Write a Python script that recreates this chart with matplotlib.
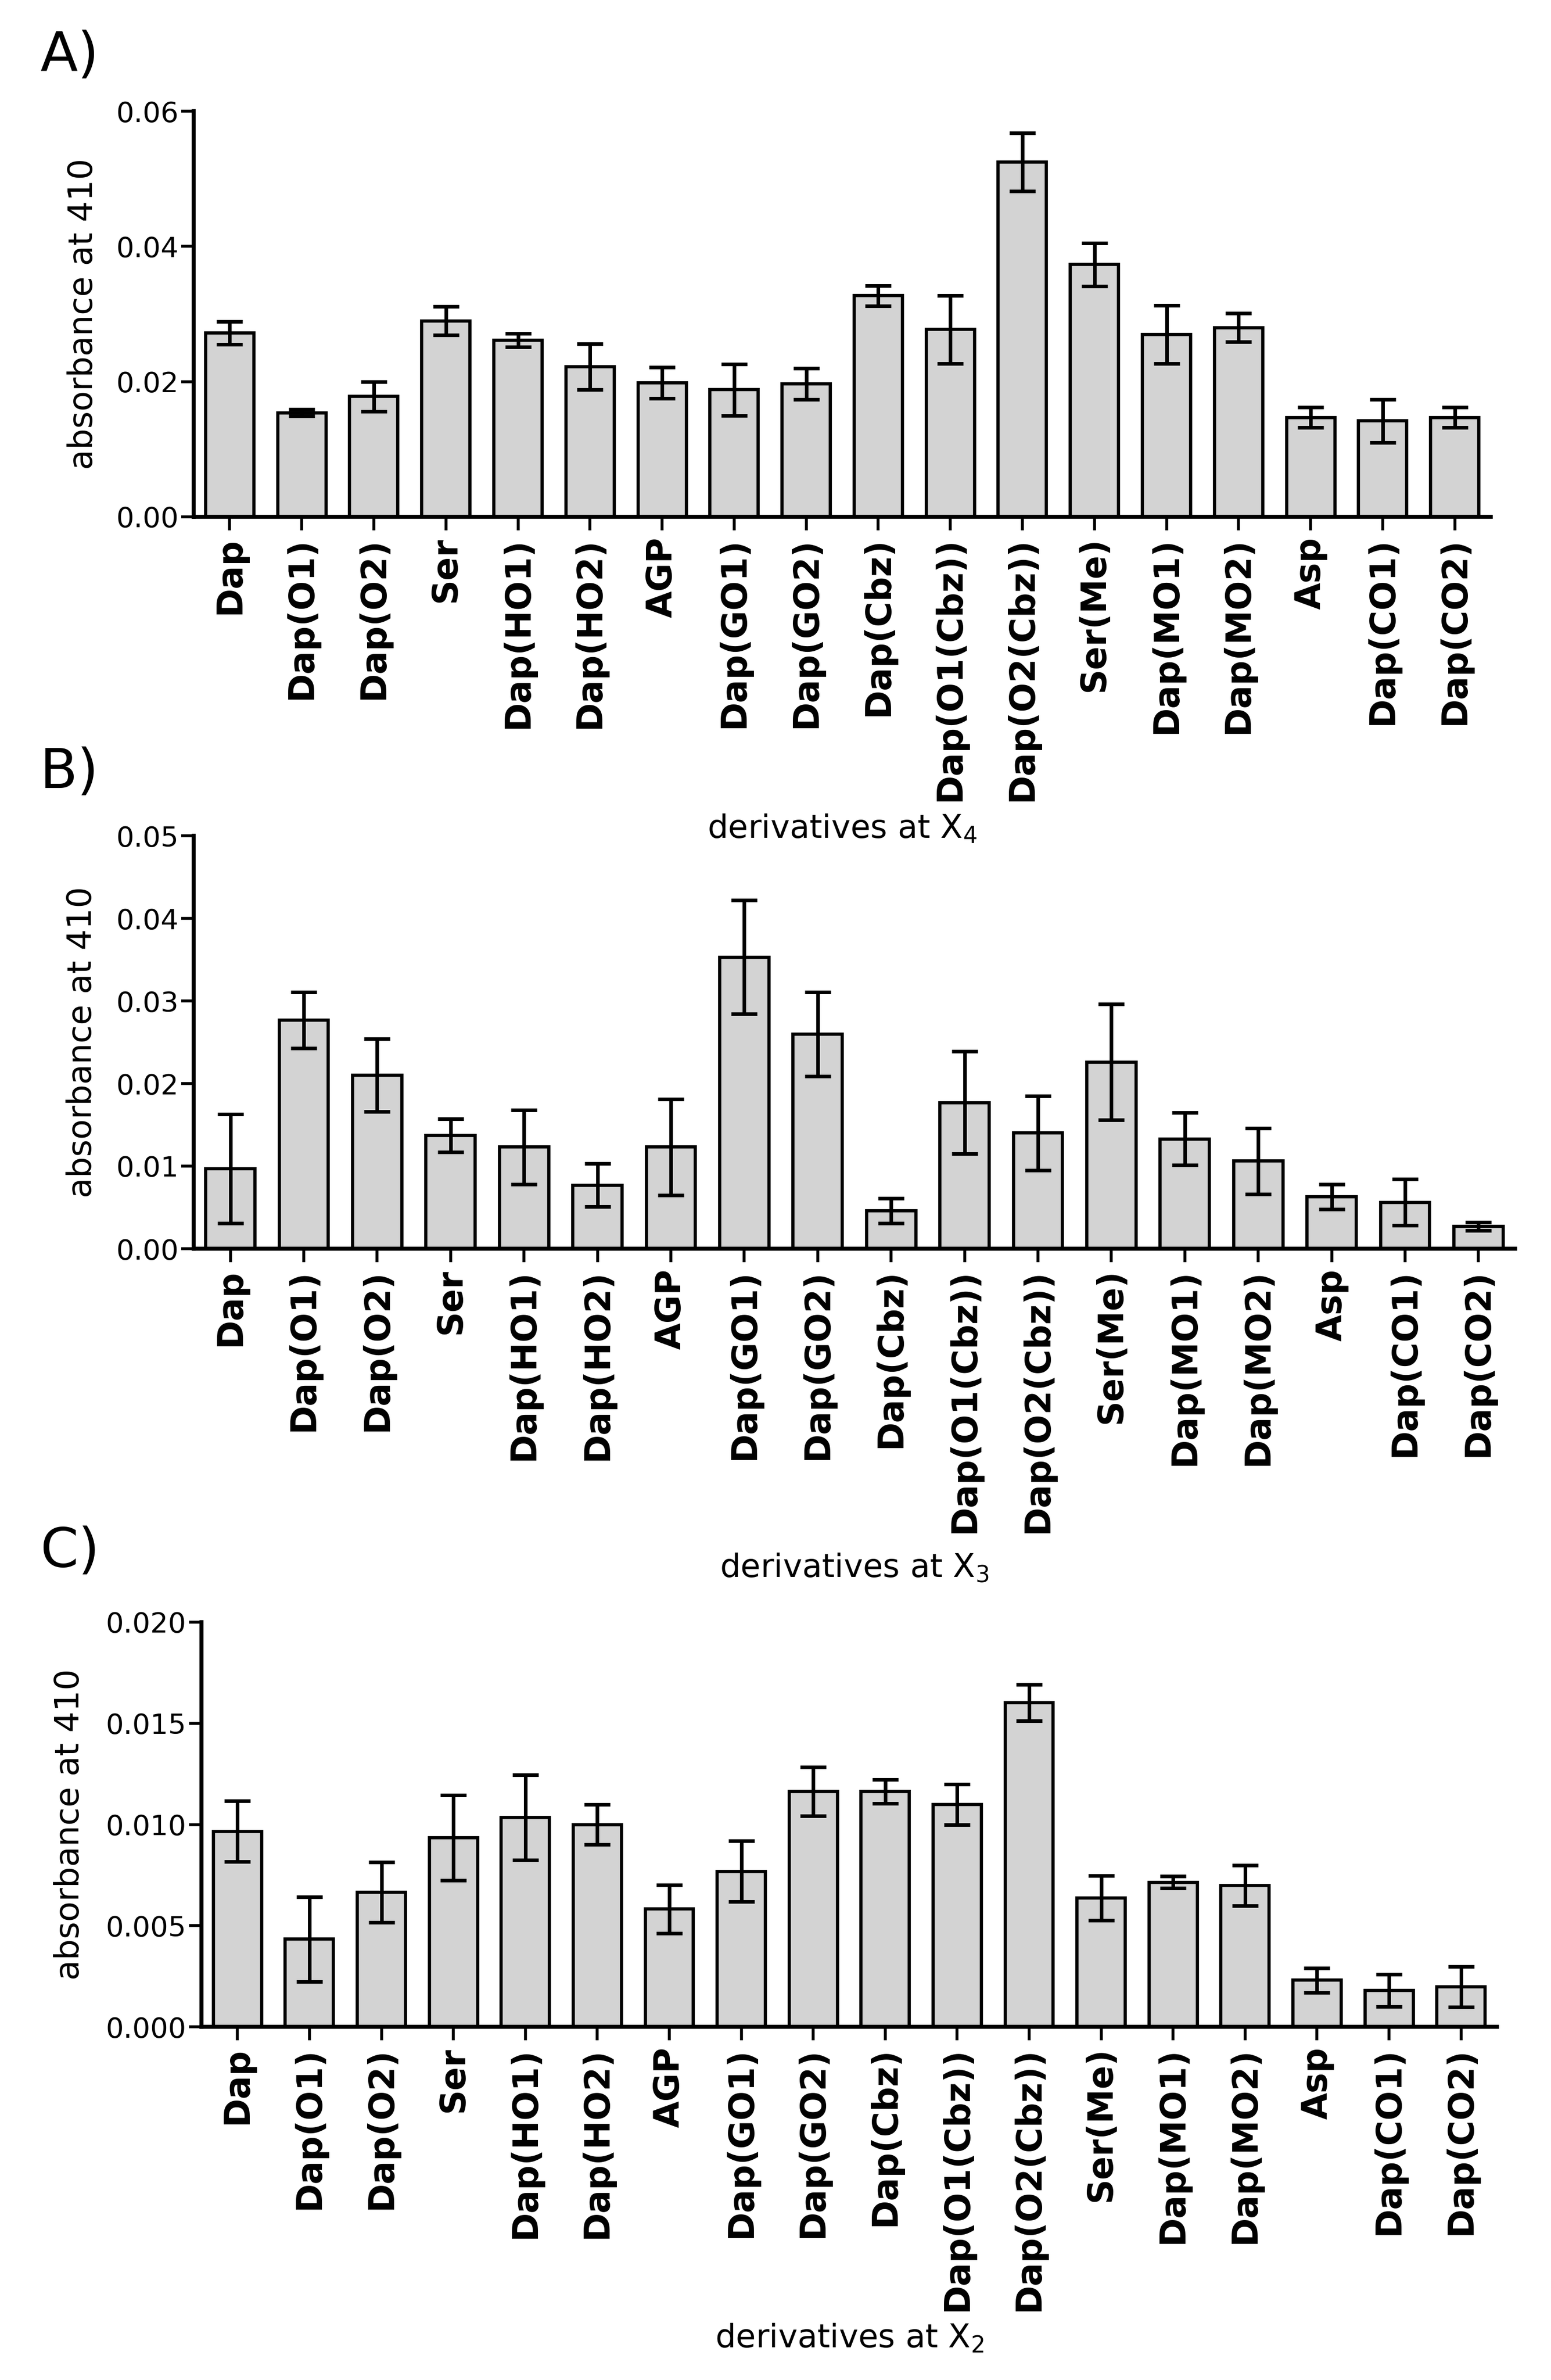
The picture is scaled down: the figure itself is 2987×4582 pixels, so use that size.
import matplotlib
matplotlib.use("Agg")
import matplotlib.pyplot as plt
import numpy as np

categories = ["Dap", "Dap(O1)", "Dap(O2)", "Ser", "Dap(HO1)", "Dap(HO2)", "AGP",
              "Dap(GO1)", "Dap(GO2)", "Dap(Cbz)", "Dap(O1(Cbz))", "Dap(O2(Cbz))",
              "Ser(Me)", "Dap(MO1)", "Dap(MO2)", "Asp", "Dap(CO1)", "Dap(CO2)"]

a_means = [0.0272, 0.0154, 0.0178, 0.0290, 0.0261, 0.0222, 0.0198, 0.0188, 0.0197,
           0.0327, 0.0277, 0.0525, 0.0373, 0.0270, 0.0280, 0.0147, 0.0142, 0.0147]
a_err = [0.0017, 0.0005, 0.0022, 0.0021, 0.0010, 0.0034, 0.0023, 0.0038, 0.0023,
         0.0015, 0.0050, 0.0043, 0.0032, 0.0043, 0.0021, 0.0015, 0.0032, 0.0015]

b_means = [0.0097, 0.0277, 0.0210, 0.0137, 0.0123, 0.0077, 0.0123, 0.0353, 0.0260,
           0.0046, 0.0177, 0.0140, 0.0226, 0.0133, 0.0106, 0.0063, 0.0056, 0.0027]
b_err = [0.0066, 0.0034, 0.0044, 0.0020, 0.0045, 0.0026, 0.0058, 0.0069, 0.0051,
         0.0015, 0.0062, 0.0045, 0.0070, 0.0032, 0.0040, 0.0015, 0.0028, 0.0005]

c_means = [0.00966, 0.00433, 0.00665, 0.00935, 0.01034, 0.0100, 0.00582, 0.00768, 0.01163,
           0.01163, 0.01098, 0.01601, 0.00636, 0.00715, 0.00699, 0.0023, 0.0018, 0.00198]
c_err = [0.0015, 0.0021, 0.0015, 0.0021, 0.0021, 0.0010, 0.0012, 0.0015, 0.0012,
         0.0006, 0.0010, 0.0009, 0.0011, 0.0003, 0.0010, 0.0006, 0.0008, 0.0010]

a_ticks = [0.00, 0.02, 0.04, 0.06]
b_ticks = [0.00, 0.01, 0.02, 0.03, 0.04, 0.05]
c_ticks = [0.000, 0.005, 0.010, 0.015, 0.020]

W, H = 2987, 4582
fig = plt.figure(figsize=(W / 100, H / 100), dpi=100)

panels = [
    ("A)", a_means, a_err, a_ticks, "{:.2f}", (373, 2871, 214, 995), "4", 1614, 137, 160),
    ("B)", b_means, b_err, b_ticks, "{:.2f}", (373, 2918, 1609, 2404), "3", 3036, 1517, 158),
    ("C)", c_means, c_err, c_ticks, "{:.3f}", (388, 2883, 3123, 3902), "2", 4520, 3017, 134),
]

bar_color = "#D3D3D3"
x = np.arange(len(categories))

for lab, means, err, ticks, fmt, (l, r, t, b), sub, xlb, plb, ylx in panels:
    ax = fig.add_axes([l / W, 1 - b / H, (r - l) / W, (b - t) / H])
    ax.bar(x, means, width=0.67, color=bar_color, edgecolor="black", linewidth=4.5, zorder=2)
    ax.errorbar(x, means, yerr=err, fmt="none", ecolor="black", elinewidth=5,
                capsize=18, capthick=5, zorder=3)
    ax.set_xlim(-0.5, len(categories) - 0.5)
    ax.set_ylim(ticks[0], ticks[-1])
    ax.set_yticks(ticks)
    ax.set_yticklabels([fmt.format(v) for v in ticks], fontsize=39, family="DejaVu Sans")
    ax.set_xticks(x)
    ax.set_xticklabels(categories, rotation=90, fontsize=48, fontweight="bold",
                       family="DejaVu Sans")
    for s in ("top", "right"):
        ax.spines[s].set_visible(False)
    for s in ("left", "bottom"):
        ax.spines[s].set_linewidth(5.5)
    ax.tick_params(axis="x", length=19, width=4, pad=9, direction="out")
    ax.tick_params(axis="y", length=17, width=4, pad=4, direction="out")
    ax.patch.set_alpha(0)

    fig.text(ylx / W, 1 - (t + b) / 2 / H, "absorbance at 410", rotation=90,
             ha="center", va="center", fontsize=46, family="DejaVu Sans")
    fig.text((l + r) / 2 / W, 1 - xlb / H, "derivatives at X$_{" + sub + "}$",
             ha="center", va="baseline", fontsize=45, family="DejaVu Sans")
    fig.text(77 / W, 1 - plb / H, lab, ha="left", va="baseline", fontsize=76,
             family="DejaVu Sans")

fig.savefig("out.png", dpi=100, facecolor="white")
